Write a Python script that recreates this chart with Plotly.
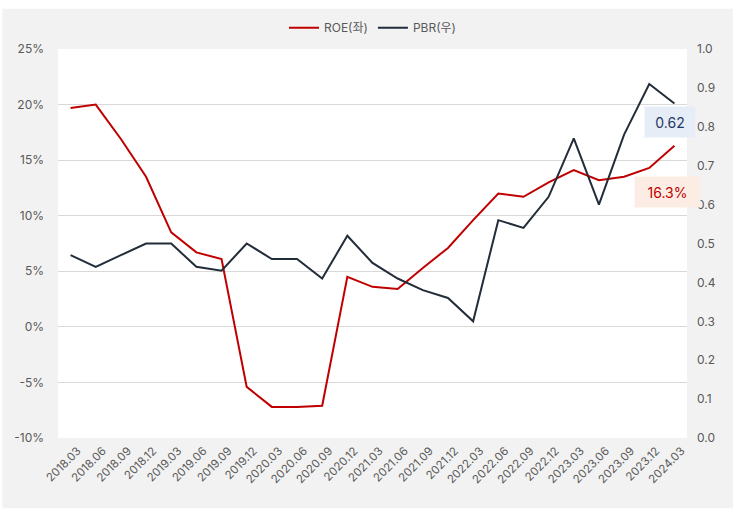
import plotly.graph_objects as go

quarters = ["2018.03", "2018.06", "2018.09", "2018.12", "2019.03", "2019.06", "2019.09", "2019.12",
            "2020.03", "2020.06", "2020.09", "2020.12", "2021.03", "2021.06", "2021.09", "2021.12",
            "2022.03", "2022.06", "2022.09", "2022.12", "2023.03", "2023.06", "2023.09", "2023.12",
            "2024.03"]
roe = [19.7, 20.0, 16.9, 13.5, 8.5, 6.7, 6.1, -5.4,
       -7.2, -7.2, -7.1, 4.5, 3.6, 3.4, 5.3, 7.1,
       9.6, 12.0, 11.7, 13.0, 14.1, 13.2, 13.5, 14.3,
       16.3]
pbr = [0.47, 0.44, 0.47, 0.50, 0.50, 0.44, 0.43, 0.50,
       0.46, 0.46, 0.41, 0.52, 0.45, 0.41, 0.38, 0.36,
       0.30, 0.56, 0.54, 0.62, 0.77, 0.60, 0.78, 0.91,
       0.86]
roe_ticks = [-10, -5, 0, 5, 10, 15, 20, 25]
roe_ticktext = ["-10%", "-5%", "0%", "5%", "10%", "15%", "20%", "25%"]
roe_label = "16.3%"
pbr_label = "0.62"

RED = "#c00000"
NAVY = "#232c39"
FONT = "Inter, Noto Sans CJK KR, sans-serif"

fig = go.Figure()
fig.add_trace(go.Scatter(x=quarters, y=roe, name="ROE(좌)", mode="lines",
                         line=dict(color=RED, width=2)))
fig.add_trace(go.Scatter(x=quarters, y=pbr, name="PBR(우)", mode="lines", yaxis="y2",
                         line=dict(color=NAVY, width=2)))

L, R, T, B = 58.3, 686.7, 49.3, 437.8
W, H = 741, 515
pw, ph = R - L, B - T

def px(x):
    return (x - L) / pw

def py(y):
    return (B - y) / ph

fig.update_layout(
    width=W, height=H,
    margin=dict(l=L, r=W - R, t=T, b=H - B, pad=0),
    paper_bgcolor="white",
    plot_bgcolor="rgba(0,0,0,0)",
    font=dict(family=FONT, color="#595959", size=12),
    showlegend=True,
    legend=dict(orientation="h", x=0.5, xanchor="center", y=py(28), yanchor="middle",
                font=dict(size=12, color="#595959"), bgcolor="rgba(0,0,0,0)",
                itemwidth=30, tracegroupgap=0),
    xaxis=dict(type="category", range=[-0.5, 24.5], showgrid=False, zeroline=False,
               showline=False, tickangle=-45, tickfont=dict(size=11.5, color="#595959"),
               ticks="", ticklabelstandoff=3, ticklabelshift=7),
    yaxis=dict(range=[-10, 25], tickvals=roe_ticks, ticktext=roe_ticktext, showgrid=True,
               gridcolor="#d9d9d9", gridwidth=1, zeroline=False, showline=False,
               tickfont=dict(size=12, color="#595959"), ticklabelstandoff=13),
    yaxis2=dict(range=[0, 1], dtick=0.1, tickformat=".1f", overlaying="y", side="right",
                showgrid=False, zeroline=False, showline=False,
                tickfont=dict(size=12, color="#595959"), ticklabelstandoff=9),
    shapes=[
        dict(type="rect", xref="paper", yref="paper", layer="below",
             x0=px(2.7), x1=px(732.7), y0=py(508), y1=py(9),
             fillcolor="#f2f2f2", line=dict(width=0)),
        dict(type="rect", xref="paper", yref="paper", layer="below",
             x0=0, x1=1, y0=0, y1=1, fillcolor="white", line=dict(width=0)),
    ],
    annotations=[
        dict(text=pbr_label, xref="paper", yref="paper", x=px(670), y=py(122),
             xanchor="center", yanchor="middle",
             showarrow=False, font=dict(size=14, color="#1f3864", family=FONT),
             bgcolor="#e7edf6", width=44, height=24, borderpad=3),
        dict(text=roe_label, xref="paper", yref="paper", x=px(667.5), y=py(192),
             xanchor="center", yanchor="middle",
             showarrow=False, font=dict(size=14, color=RED, family=FONT),
             bgcolor="#fbede4", width=59, height=24, borderpad=3),
    ],
)

fig.write_html("out.html")
